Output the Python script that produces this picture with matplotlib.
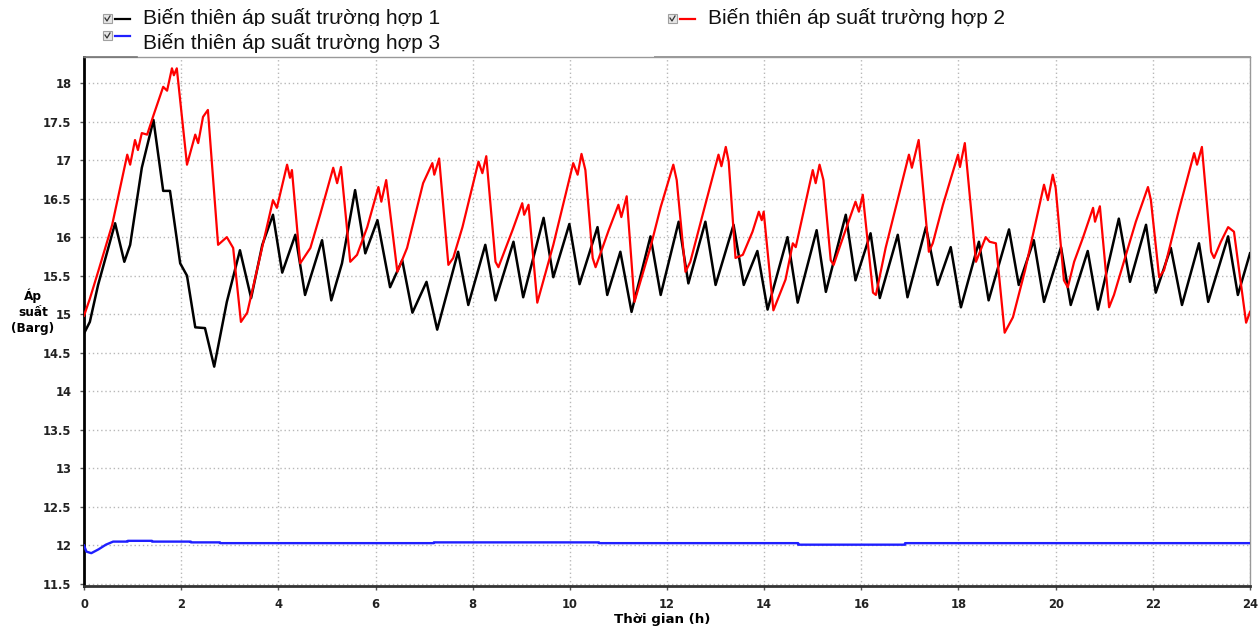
import numpy as np
import matplotlib
matplotlib.use('Agg')
import matplotlib.pyplot as plt
from matplotlib.patches import Rectangle
from matplotlib.lines import Line2D
from matplotlib.transforms import Bbox

# Truong hop 1: thoi gian (h) / ap suat (Barg)
time_case1 = [0, 0.12, 0.29, 0.64, 0.83, 0.95, 1.19, 1.43, 1.63, 1.77, 1.98, 2.12, 2.29, 2.49,
              2.68, 2.94, 3.21, 3.44, 3.67, 3.89, 4.08, 4.35, 4.55, 4.9, 5.09, 5.31, 5.58, 5.79,
              6.04, 6.3, 6.55, 6.76, 7.05, 7.27, 7.7, 7.91, 8.26, 8.47, 8.84, 9.04, 9.46, 9.66,
              9.99, 10.2, 10.57, 10.77, 11.04, 11.27, 11.66, 11.87, 12.24, 12.44, 12.79, 13.0,
              13.37, 13.58, 13.86, 14.07, 14.48, 14.69, 15.08, 15.27, 15.68, 15.88, 16.19, 16.38,
              16.75, 16.95, 17.33, 17.57, 17.84, 18.05, 18.42, 18.62, 19.04, 19.24, 19.55, 19.76,
              20.11, 20.31, 20.66, 20.87, 21.3, 21.53, 21.86, 22.06, 22.37, 22.6, 22.95, 23.14,
              23.55, 23.75, 24.0]
pressure_case1 = [14.75, 14.9, 15.38, 16.18, 15.68, 15.9, 16.9, 17.52, 16.6, 16.6, 15.66, 15.5,
                  14.83, 14.82, 14.32, 15.16, 15.83, 15.21, 15.9, 16.29, 15.54, 16.03, 15.25,
                  15.96, 15.18, 15.66, 16.61, 15.79, 16.22, 15.35, 15.7, 15.02, 15.42, 14.8,
                  15.81, 15.12, 15.9, 15.18, 15.94, 15.22, 16.25, 15.48, 16.17, 15.39, 16.13,
                  15.25, 15.81, 15.03, 16.01, 15.25, 16.2, 15.4, 16.2, 15.38, 16.16, 15.38, 15.82,
                  15.06, 16.0, 15.15, 16.09, 15.29, 16.29, 15.44, 16.05, 15.21, 16.03, 15.22,
                  16.13, 15.38, 15.87, 15.09, 15.94, 15.18, 16.1, 15.38, 15.96, 15.16, 15.87,
                  15.12, 15.82, 15.06, 16.24, 15.42, 16.16, 15.28, 15.86, 15.12, 15.92, 15.16,
                  16.01, 15.25, 15.79]

# Truong hop 2
time_case2 = [0, 0.12, 0.29, 0.58, 0.89, 0.95, 1.05, 1.11, 1.19, 1.3, 1.43, 1.63, 1.71, 1.81,
              1.85, 1.91, 2.12, 2.29, 2.35, 2.45, 2.55, 2.76, 2.94, 3.07, 3.23, 3.36, 3.89, 3.97,
              4.18, 4.24, 4.28, 4.45, 4.66, 4.86, 5.13, 5.21, 5.29, 5.48, 5.62, 5.83, 6.06, 6.12,
              6.22, 6.45, 6.65, 6.98, 7.17, 7.21, 7.31, 7.5, 7.6, 7.79, 8.12, 8.2, 8.28, 8.47,
              8.53, 8.82, 9.02, 9.06, 9.15, 9.33, 9.66, 10.07, 10.16, 10.24, 10.32, 10.47, 10.53,
              10.8, 11.0, 11.06, 11.17, 11.33, 11.66, 11.87, 12.13, 12.2, 12.38, 12.48, 12.75,
              13.06, 13.12, 13.21, 13.27, 13.41, 13.56, 13.76, 13.89, 13.95, 13.99, 14.19, 14.44,
              14.59, 14.65, 15.0, 15.06, 15.14, 15.22, 15.37, 15.43, 15.57, 15.88, 15.95, 16.03,
              16.24, 16.3, 16.5, 16.98, 17.04, 17.18, 17.39, 17.47, 17.68, 17.99, 18.03, 18.13,
              18.36, 18.56, 18.64, 18.77, 18.95, 19.12, 19.37, 19.76, 19.84, 19.94, 20.0, 20.17,
              20.25, 20.38, 20.56, 20.77, 20.81, 20.91, 21.1, 21.2, 21.65, 21.9, 21.96, 22.13,
              22.23, 22.52, 22.85, 22.91, 23.01, 23.2, 23.26, 23.4, 23.55, 23.67, 23.92, 24.0]
pressure_case2 = [14.98, 15.2, 15.55, 16.16, 17.07, 16.94, 17.26, 17.13, 17.35, 17.33, 17.58,
                  17.95, 17.9, 18.19, 18.1, 18.19, 16.94, 17.33, 17.22, 17.56, 17.65, 15.9, 16.0,
                  15.86, 14.9, 15.02, 16.48, 16.38, 16.94, 16.77, 16.87, 15.66, 15.86, 16.29,
                  16.9, 16.7, 16.91, 15.68, 15.77, 16.13, 16.65, 16.46, 16.74, 15.55, 15.86, 16.7,
                  16.96, 16.81, 17.02, 15.64, 15.73, 16.13, 16.98, 16.83, 17.05, 15.68, 15.61,
                  16.09, 16.44, 16.29, 16.42, 15.15, 15.9, 16.96, 16.81, 17.08, 16.87, 15.73,
                  15.61, 16.09, 16.42, 16.26, 16.53, 15.16, 15.87, 16.39, 16.94, 16.74, 15.55,
                  15.68, 16.33, 17.07, 16.92, 17.17, 16.98, 15.73, 15.77, 16.07, 16.33, 16.22,
                  16.33, 15.05, 15.45, 15.92, 15.87, 16.87, 16.7, 16.94, 16.74, 15.7, 15.64, 15.9,
                  16.46, 16.33, 16.55, 15.28, 15.25, 15.86, 17.07, 16.9, 17.26, 15.81, 15.92,
                  16.42, 17.07, 16.91, 17.22, 15.68, 16.0, 15.94, 15.92, 14.76, 14.96, 15.57,
                  16.68, 16.48, 16.81, 16.64, 15.44, 15.35, 15.68, 15.99, 16.38, 16.2, 16.4,
                  15.09, 15.25, 16.2, 16.65, 16.48, 15.48, 15.57, 16.31, 17.09, 16.94, 17.17,
                  15.81, 15.73, 15.94, 16.13, 16.07, 14.89, 15.03]

# Truong hop 3
time_case3 = [0, 0.05, 0.15, 0.3, 0.45, 0.6, 0.9, 0.9, 1.4, 1.4, 2.2, 2.2, 2.8, 2.8, 7.2, 7.2,
              10.6, 10.6, 14.7, 14.7, 16.9, 16.9, 24.0]
pressure_case3 = [12.0, 11.92, 11.9, 11.95, 12.01, 12.05, 12.05, 12.06, 12.06, 12.05, 12.05,
                  12.04, 12.04, 12.03, 12.03, 12.04, 12.04, 12.03, 12.03, 12.01, 12.01, 12.03,
                  12.03]

labels = ['Biến thiên áp suất trường hợp 1',
          'Biến thiên áp suất trường hợp 2',
          'Biến thiên áp suất trường hợp 3']
x_ticks = list(range(0, 25, 2))
y_ticks = list(np.arange(11.5, 18.01, 0.5))

W, H = 1258, 630
fig = plt.figure(figsize=(W / 100, H / 100), dpi=100)
ax = fig.add_axes([84 / W, 1 - 586 / H, (1250 - 84) / W, (586 - 57) / H])

ax.plot(time_case1, pressure_case1, color='black', lw=1.8, zorder=3)
ax.plot(time_case2, pressure_case2, color='red', lw=1.6, zorder=4)
ax.plot(time_case3, pressure_case3, color='#1f1fff', lw=1.7, zorder=3)

ax.set_xlim(0, 24)
ax.set_ylim(11.474, 18.337)
ax.set_xticks(x_ticks)
ax.set_yticks(y_ticks)
ax.set_xticklabels([str(t) for t in x_ticks])
ax.set_yticklabels(['%g' % v for v in y_ticks])
for lab in ax.get_xticklabels() + ax.get_yticklabels():
    lab.set_fontweight('bold')
    lab.set_fontsize(8.3)
    lab.set_color('#222222')
ax.tick_params(length=3, width=1, color='#555555', pad=6)

ax.grid(True, linestyle=(0, (1, 2)), color='#b8b8b8', linewidth=1)
ax.set_axisbelow(True)
ax.spines['left'].set_linewidth(2)
ax.spines['left'].set_color('black')
ax.spines['bottom'].set_linewidth(2)
ax.spines['bottom'].set_color('#333333')
for s in ['top', 'right']:
    ax.spines[s].set_linewidth(1)
    ax.spines[s].set_color('#999999')

fig.text(33 / W, 1 - 312 / H, 'Áp\nsuất\n(Barg)', ha='center', va='center',
         fontsize=8.7, fontweight='bold', linespacing=1.3)
fig.text(662 / W, 1 - 620 / H, 'Thời gian (h)', ha='center', va='center',
         fontsize=9.6, fontweight='bold')


def fx(x):
    return x / W


def fy(y):
    return 1 - y / H


def legend_entry(xb, ymid, color, text, baseline, clip_y=None):
    # o checkbox nho
    fig.add_artist(Rectangle((fx(xb), fy(ymid + 4)), 9 / W, 9 / H, transform=fig.transFigure,
                             facecolor='#e6e6e6', edgecolor='#a0a0a0', lw=0.8))
    fig.add_artist(Line2D([fx(xb + 2), fx(xb + 4), fx(xb + 7)],
                          [fy(ymid - 1), fy(ymid + 2), fy(ymid - 3)],
                          transform=fig.transFigure, color='#333333', lw=0.9))
    fig.add_artist(Line2D([fx(xb + 12), fx(xb + 27)], [fy(ymid), fy(ymid)],
                          transform=fig.transFigure, color=color, lw=1.6))
    t = fig.text(fx(xb + 40), fy(baseline), text, ha='left', va='baseline',
                 fontsize=15, family='Liberation Sans', color='#111111')
    if clip_y is not None:
        t.set_clip_box(Bbox([[0, H - clip_y], [W, H]]))
        t.set_clip_on(True)


legend_entry(103, 19, 'black', labels[0], 24, clip_y=25.5)
legend_entry(668, 19, 'red', labels[1], 24)
legend_entry(103, 36, '#1f1fff', labels[2], 49)

# vien tren khung legend
fig.add_artist(Line2D([fx(84), fx(137)], [fy(57), fy(57)], transform=fig.transFigure,
                      color='#777777', lw=1.2))
fig.add_artist(Line2D([fx(655), fx(1250)], [fy(56.5), fy(56.5)], transform=fig.transFigure,
                      color='#999999', lw=1.4))

fig.savefig('out.png', dpi=100)
